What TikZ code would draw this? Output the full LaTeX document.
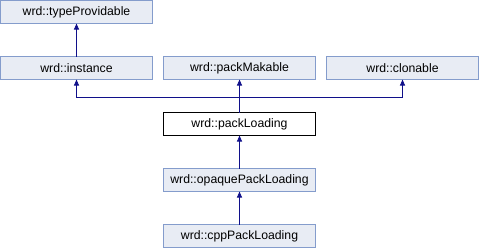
\documentclass[tikz,border=0pt]{standalone}
\usepackage{fontspec}
\setmainfont{Liberation Sans}
\usetikzlibrary{positioning, arrows.meta}
\definecolor{boxfill}{RGB}{232,236,244}
\definecolor{boxline}{RGB}{132,156,204}
\definecolor{linkblue}{RGB}{16,16,138}
\tikzset{node distance=33bp and 11bp, % vertical and horizontal gaps between classes
cls/.style={ % Sets the properties for each class box
draw=boxline, fill=boxfill, line width=0.9bp,
minimum width=152bp, minimum height=23bp,
inner sep=0pt, outer sep=0pt,
font=\fontsize{12.3}{14}\selectfont},
current/.style={ % The class the diagram is about
cls, draw=black, fill=white},
inherit/.style={ % Sets the properties for each inheritance link
draw=linkblue, line width=0.9bp,
-{Triangle[width=5bp,length=6bp]}}}

\begin{document}
\begin{tikzpicture}

    \node[cls] (typeProvidable) {wrd::typeProvidable};
    \node[cls, below=of typeProvidable] (instance) {wrd::instance};
    \node[cls, right=of instance] (packMakable) {wrd::packMakable};
    \node[cls, right=of packMakable] (clonable) {wrd::clonable};
    \node[current, below=of packMakable] (packLoading) {wrd::packLoading};
    \node[cls, below=of packLoading] (opaquePackLoading) {wrd::opaquePackLoading};
    \node[cls, below=of opaquePackLoading] (cppPackLoading) {wrd::cppPackLoading};

    \path[use as bounding box] (typeProvidable.center) ++(-76.5bp,12bp) rectangle ++(479bp,-248bp);

    \coordinate[above=15.5bp of packLoading.north] (bus);

    \draw[inherit] (instance) -- (typeProvidable);
    \draw[inherit] (packLoading) -- (packMakable);
    \draw[inherit] (packLoading.north) -- (bus) -| (instance.south);
    \draw[inherit] (packLoading.north) -- (bus) -| (clonable.south);
    \draw[inherit] (opaquePackLoading) -- (packLoading);
    \draw[inherit] (cppPackLoading) -- (opaquePackLoading);

\end{tikzpicture}
\end{document}
